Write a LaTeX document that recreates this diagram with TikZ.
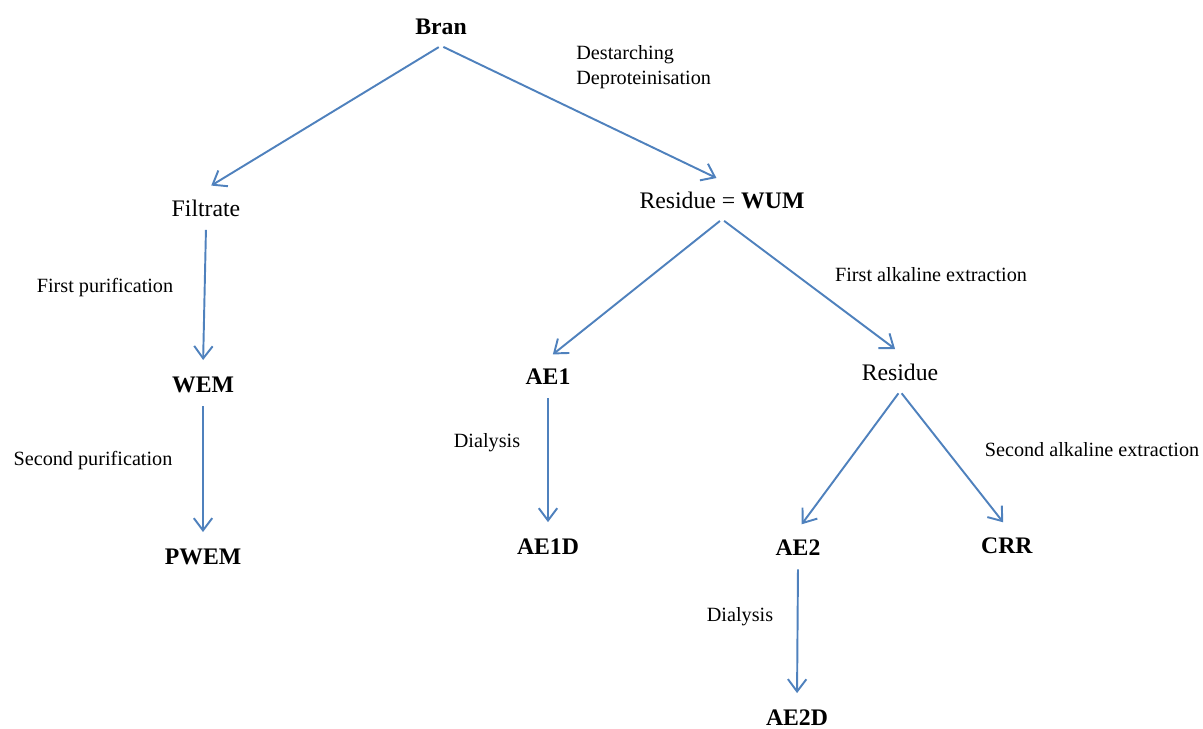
\documentclass[tikz,border=0pt]{standalone}
\usepackage{fontspec}
\setmainfont{Liberation Serif}
\usetikzlibrary{arrows.meta}
\definecolor{flowblue}{RGB}{79,129,189}
\tikzset{
  prod/.style={font=\fontsize{13.5}{16}\selectfont, inner xsep=2pt, inner ysep=6pt},
  step label/.style={font=\fontsize{11.5}{14}\selectfont, inner sep=0pt},
  flow/.style={draw=flowblue, line width=1.1pt,
    -{Straight Barb[length=7pt,width=10.5pt,line width=1.1pt]},
    shorten <=1.5pt, shorten >=3.5pt}
}
\begin{document}
\begin{tikzpicture}[x=0.02cm,y=-0.02cm]
      \useasboundingbox (0,0) rectangle (1203,729);
      \draw
        (441,27) node[prod] (bran){\textbf{Bran}}
        (206,208) node[prod] (filt){Filtrate}
        (722,200) node[prod] (wum){Residue = \textbf{WUM}}
        (203,385) node[prod] (wem){\textbf{WEM}}
        (203,557) node[prod] (pwem){\textbf{PWEM}}
        (548,377) node[prod] (ae1){\textbf{AE1}}
        (548,547) node[prod] (ae1d){\textbf{AE1D}}
        (900,372) node[prod] (res){Residue}
        (798,548) node[prod] (ae2){\textbf{AE2}}
        (1007,546) node[prod] (crr){\textbf{CRR}}
        (797,718) node[prod] (ae2d){\textbf{AE2D}};
      % step labels
      \draw
        (576,67) node[step label, anchor=west, align=left] (destarch){Destarching\\Deproteinisation}
        (105,288) node[step label] (firstpur){First purification}
        (93,461) node[step label] (secondpur){Second purification}
        (487,443) node[step label] (dialysis1){Dialysis}
        (931,275) node[step label] (firstalk){First alkaline extraction}
        (1092,450) node[step label] (secondalk){Second alkaline extraction}
        (740,617) node[step label] (dialysis2){Dialysis};
      \begin{scope}[flow]
        \draw (bran.south) to (filt.north);
        \draw (bran.south) to (wum.north);
        \draw (filt.south) to (wem.north);
        \draw (wem.south) to (pwem.north);
        \draw (wum.south) to (ae1.north);
        \draw (wum.south) to (res.north);
        \draw (ae1.south) to (ae1d.north);
        \draw (res.south) to (ae2.north);
        \draw (res.south) to (crr.north);
        \draw (ae2.south) to (ae2d.north);
      \end{scope}
    \end{tikzpicture}
\end{document}
